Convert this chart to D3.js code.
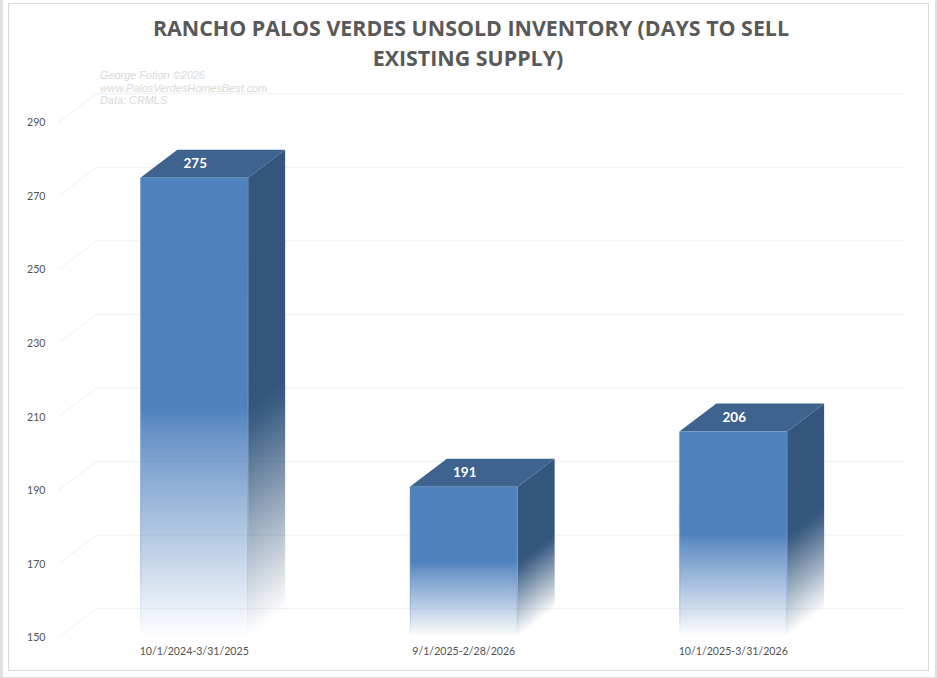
<!DOCTYPE html>
<html>
<head>
<meta charset="utf-8">
<script src="https://cdn.jsdelivr.net/npm/d3@7"></script>
<style>
  html, body { margin: 0; padding: 0; background: #fff; overflow: hidden; }
  svg { display: block; }
</style>
</head>
<body>
<script>
const categories = ["10/1/2024-3/31/2025", "9/1/2025-2/28/2026", "10/1/2025-3/31/2026"];
const values = [275, 191, 206];
const yTicks = [150, 170, 190, 210, 230, 250, 270, 290];
const titleLines = ["RANCHO PALOS VERDES UNSOLD INVENTORY (DAYS TO SELL", "EXISTING SUPPLY)"];
const noteLines = ["George Fotion ©2026", "www.PalosVerdesHomesBest.com", "Data: CRMLS"];

const width = 937;
const height = 678;
const depthX = 37;
const depthY = 28;

const svg = d3.select("body").append("svg")
  .attr("width", width)
  .attr("height", height);

// page frame
svg.append("rect").attr("width", width).attr("height", height).attr("fill", "#fff");
svg.append("rect").attr("x", 0).attr("y", 0).attr("width", 3).attr("height", height).attr("fill", "#e1e1e1");
svg.append("rect").attr("x", 935).attr("y", 0).attr("width", 2).attr("height", height).attr("fill", "#e1e1e1");
svg.append("rect").attr("x", 0).attr("y", 677).attr("width", width).attr("height", 1).attr("fill", "#d9d9d9");
svg.append("rect").attr("x", 8.5).attr("y", 3.5).attr("width", 920).attr("height", 667)
  .attr("fill", "#fff").attr("stroke", "#d9d9d9");

const x = d3.scaleBand()
  .domain(categories)
  .range([59.5, 868])
  .paddingInner(0.6)
  .paddingOuter(0.3);

const y = d3.scaleLinear()
  .domain([150, 290])
  .range([636.7, 121.7]);

// floor-and-wall gridlines
const grid = svg.append("g");
yTicks.forEach(t => {
  grid.append("path")
    .attr("d", `M${x.range()[0]},${y(t)}L${x.range()[0] + depthX},${y(t) - depthY}L${x.range()[1] + depthX - 1},${y(t) - depthY}`)
    .attr("fill", "none")
    .attr("stroke", "#f0f0f0")
    .attr("stroke-width", 1);
});

// title
const title = svg.append("text")
  .attr("text-anchor", "middle")
  .attr("font-family", "'Open Sans', sans-serif")
  .attr("font-weight", 700)
  .attr("font-size", 21.4)
  .attr("fill", "#595959");
titleLines.forEach((line, i) => {
  title.append("tspan").attr("x", 471 - i * 3).attr("y", 36 + i * 30).text(line);
});

// watermark note
const note = svg.append("text")
  .attr("font-family", "'Liberation Sans', Arial, sans-serif")
  .attr("font-style", "italic")
  .attr("font-size", 10.9)
  .attr("fill", "#d9d9d9");
noteLines.forEach((line, i) => {
  note.append("tspan").attr("x", 100).attr("y", 79 + i * 12.7).text(line);
});

// gradients
const defs = svg.append("defs");
function addStops(grad, stops) {
  stops.forEach(s => {
    grad.append("stop").attr("offset", s[0]).attr("stop-color", s[1]).attr("stop-opacity", s[2]);
  });
}
addStops(defs.append("linearGradient")
  .attr("id", "frontFade")
  .attr("x1", 0).attr("y1", 0).attr("x2", 0).attr("y2", 1),
  [[0, "#4f81bd", 1], [0.5, "#4f81bd", 1], [0.56, "#4f81bd", 0.85], [1, "#4f81bd", 0]]);
addStops(defs.append("linearGradient")
  .attr("id", "edgeFade")
  .attr("x1", 0).attr("y1", 0).attr("x2", 0).attr("y2", 1),
  [[0, "#6f99cd", 0.15], [0.5, "#6f99cd", 0.5], [0.8, "#7fa5d3", 0.6], [1, "#7fa5d3", 0]]);

const bars = svg.append("g");
categories.forEach((c, i) => {
  const x0 = x(c);
  const x1 = x0 + x.bandwidth();
  const top = y(values[i]) + 0.9;
  const bottom = y(150);
  const mid = (top + bottom) / 2;

  // side fade runs square to the receding bottom edge
  const len = Math.hypot(depthX, depthY);
  const nx = depthY / len;
  const ny = depthX / len;
  const run = (bottom - mid) * ny;
  const sideId = "sideFade" + i;
  addStops(defs.append("linearGradient")
    .attr("id", sideId)
    .attr("gradientUnits", "userSpaceOnUse")
    .attr("x1", x1).attr("y1", mid)
    .attr("x2", x1 + nx * run).attr("y2", mid + ny * run),
    [[0, "#34567d", 1], [0.1, "#3a5c82", 0.97], [1, "#34567d", 0]]);

  bars.append("path")
    .attr("d", `M${x1},${top}L${x1 + depthX},${top - depthY}L${x1 + depthX},${bottom - depthY}L${x1},${bottom}Z`)
    .attr("fill", `url(#${sideId})`);
  bars.append("path")
    .attr("d", `M${x0},${top}L${x0 + depthX},${top - depthY}L${x1 + depthX},${top - depthY}L${x1},${top}Z`)
    .attr("fill", "#3e638f");
  bars.append("rect")
    .attr("x", x0).attr("y", top)
    .attr("width", x.bandwidth()).attr("height", bottom - top)
    .attr("fill", "url(#frontFade)");
  [x0, x1 - 1].forEach(ex => {
    bars.append("rect")
      .attr("x", ex).attr("y", top)
      .attr("width", 1).attr("height", bottom - top)
      .attr("fill", "url(#edgeFade)");
  });

  bars.append("text")
    .attr("x", x0 + x.bandwidth() / 2 + 1)
    .attr("y", top - 9.5)
    .attr("text-anchor", "middle")
    .attr("font-family", "Lato, sans-serif")
    .attr("font-weight", 700)
    .attr("font-size", 13.5)
    .attr("fill", "#fff")
    .text(values[i]);
});

// axes
const yAxis = svg.append("g")
  .attr("transform", "translate(45.5,0.7)")
  .call(d3.axisLeft(y).tickValues(yTicks).tickSize(0).tickPadding(0));
const xAxis = svg.append("g")
  .attr("transform", "translate(0,641)")
  .call(d3.axisBottom(x).tickSize(0).tickPadding(6));
[yAxis, xAxis].forEach(a => {
  a.select(".domain").remove();
  a.selectAll("text")
    .attr("font-family", "Lato, sans-serif")
    .attr("font-size", 10.6)
    .attr("fill", "#525252");
});
</script>
</body>
</html>
